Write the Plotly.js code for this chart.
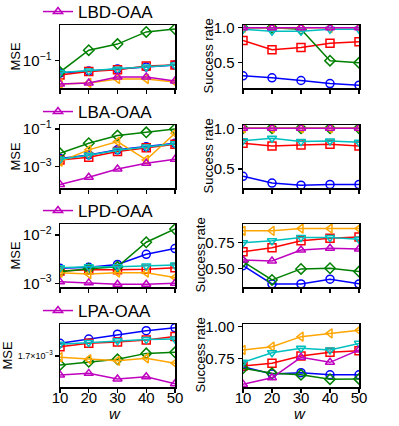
<!DOCTYPE html>
<html>
<head>
<meta charset="utf-8">
<script src="https://cdn.plot.ly/plotly-3.0.1.min.js"></script>
<style>
  html, body { margin: 0; padding: 0; background: #fff; }
  #chart { width: 399px; height: 426px; }
</style>
</head>
<body>
<div id="chart"></div>
<script>
// window sizes (x axis)
const w = [10, 20, 30, 40, 50];

// each panel: series in order blue, red, green, orange, cyan, magenta
const lbdMse = [
  [0.0763, 0.0798, 0.0834, 0.0871, 0.091],
  [0.0731, 0.079, 0.082, 0.0891, 0.091],
  [0.078, 0.126, 0.144, 0.188, 0.2],
  [0.06, 0.0614, 0.067, 0.067, 0.0627],
  [0.077, 0.08, 0.083, 0.087, 0.091],
  [0.06, 0.0614, 0.07, 0.07, 0.0641],
];
const lbdRate = [
  [0.314, 0.286, 0.247, 0.204, 0.18],
  [0.82, 0.686, 0.72, 0.78, 0.8],
  [1.0, 1.0, 0.98, 0.53, 0.5],
  [1.0, 1.0, 1.0, 1.0, 1.0],
  [0.98, 0.95, 0.95, 0.98, 0.98],
  [1.0, 1.0, 1.0, 1.0, 1.0],
];
const lbaMse = [
  [2.75e-3, 4.2e-3, 7.8e-3, 1.15e-2, 1.74e-2],
  [2.29e-3, 3.16e-3, 6.3e-3, 1.02e-2, 1.55e-2],
  [5.1e-3, 1.74e-2, 4.47e-2, 6.6e-2, 0.1],
  [1.86e-3, 7.8e-3, 2.14e-2, 2.29e-3, 5.9e-2],
  [2.5e-3, 4.0e-3, 7.5e-3, 1.1e-2, 1.65e-2],
  [1.15e-4, 2.75e-4, 7.6e-4, 1.51e-3, 2.45e-3],
];
const lbaRate = [
  [0.41, 0.327, 0.3, 0.31, 0.31],
  [0.816, 0.783, 0.795, 0.803, 0.783],
  [1.0, 1.0, 1.0, 1.0, 1.0],
  [1.0, 1.0, 1.0, 1.0, 1.0],
  [0.848, 0.877, 0.836, 0.844, 0.828],
  [1.0, 1.0, 1.0, 1.0, 1.0],
];
const lpdMse = [
  [2.04e-3, 2.14e-3, 2.46e-3, 3.98e-3, 5.25e-3],
  [1.8e-3, 1.9e-3, 1.9e-3, 1.95e-3, 2.09e-3],
  [1.74e-3, 2.0e-3, 2.19e-3, 7.08e-3, 1.33e-2],
  [1.66e-3, 1.55e-3, 1.66e-3, 1.66e-3, 1.32e-3],
  [2.09e-3, 2.19e-3, 2.19e-3, 2.29e-3, 2.4e-3],
  [1.07e-3, 1.02e-3, 0.955e-3, 0.955e-3, 1.0e-3],
];
const lpdRate = [
  [0.525, 0.35, 0.35, 0.395, 0.35],
  [0.66, 0.698, 0.765, 0.788, 0.8],
  [0.564, 0.388, 0.494, 0.5, 0.468],
  [0.86, 0.86, 0.882, 0.882, 0.882],
  [0.746, 0.765, 0.797, 0.797, 0.78],
  [0.58, 0.57, 0.676, 0.692, 0.686],
];
const lpaMse = [
  [1.849e-3, 1.901e-3, 1.963e-3, 2.009e-3, 2.047e-3],
  [1.807e-3, 1.849e-3, 1.866e-3, 1.888e-3, 1.932e-3],
  [1.603e-3, 1.637e-3, 1.664e-3, 1.73e-3, 1.742e-3],
  [1.687e-3, 1.664e-3, 1.648e-3, 1.675e-3, 1.622e-3],
  [1.836e-3, 1.858e-3, 1.879e-3, 1.897e-3, 1.901e-3],
  [1.5e-3, 1.517e-3, 1.462e-3, 1.483e-3, 1.416e-3],
];
const lpaRate = [
  [0.684, 0.626, 0.636, 0.619, 0.619],
  [0.689, 0.71, 0.768, 0.797, 0.81],
  [0.671, 0.631, 0.619, 0.585, 0.587],
  [0.816, 0.842, 0.921, 0.947, 0.971],
  [0.718, 0.794, 0.829, 0.815, 0.868],
  [0.544, 0.596, 0.758, 0.718, 0.815],
];

const rowNames = ["LBD-OAA", "LBA-OAA", "LPD-OAA", "LPA-OAA"];
const msePanels = [lbdMse, lbaMse, lpdMse, lpaMse];
const ratePanels = [lbdRate, lbaRate, lpdRate, lpaRate];

const colors = ["#0000ff", "#ff0000", "#008000", "#ffa500", "#00bfbf", "#bf00bf"];
const symbols = ["circle-open", "square-open", "diamond-open", "triangle-left-open", "triangle-down-open", "triangle-up-open"];

const font = "Liberation Sans, Arial, sans-serif";
const W = 399, H = 426;
const px = (x) => x / W;
const py = (y) => 1 - y / H;

const rowTops = [25, 125, 224, 324];
const rowH = 63;
const colX = [[60, 175], [243, 359]];

const mseRanges = [[-1.26, -0.66], [-4.13, -0.79], [-3.077, -1.772], [-2.858, -2.678]];
const mseTicks = [
  { vals: [0.1], text: ["10<sup>−1</sup>"], size: 15 },
  { vals: [0.1, 0.001], text: ["10<sup>−1</sup>", "10<sup>−3</sup>"], size: 15 },
  { vals: [0.01, 0.001], text: ["10<sup>−2</sup>", "10<sup>−3</sup>"], size: 15 },
  { vals: [0.0017], text: ["1.7×10<sup>−3</sup>"], size: 9 },
];
const rateRanges = [[0.14, 1.04], [0.266, 1.04], [0.32, 0.926], [0.523, 1.021]];
const rateTicks = [
  { vals: [0.5, 1.0], text: ["0.5", "1.0"] },
  { vals: [0.5, 1.0], text: ["0.5", "1.0"] },
  { vals: [0.5, 0.75], text: ["0.50", "0.75"] },
  { vals: [0.75, 1.0], text: ["0.75", "1.00"] },
];

const traces = [];
const layout = {
  width: W,
  height: H,
  margin: { l: 0, r: 0, t: 0, b: 0, autoexpand: false },
  paper_bgcolor: "#fff",
  plot_bgcolor: "#fff",
  font: { family: font, color: "#000", size: 15 },
  annotations: [],
};

function axisBase() {
  return {
    showline: true,
    mirror: true,
    linecolor: "#000",
    linewidth: 1.5,
    ticks: "outside",
    ticklen: 4,
    tickwidth: 1.2,
    tickcolor: "#000",
    showgrid: false,
    zeroline: false,
    tickfont: { family: font, size: 15, color: "#000" },
  };
}

for (let r = 0; r < 4; r++) {
  const top = rowTops[r];
  const legendKey = r === 0 ? "legend" : "legend" + (r + 1);
  for (let c = 0; c < 2; c++) {
    const idx = r * 2 + c + 1;
    const xa = "x" + idx, ya = "y" + idx;
    const panel = c === 0 ? msePanels[r] : ratePanels[r];
    panel.forEach((vals, s) => {
      const isMain = s === 5;
      traces.push({
        type: "scatter",
        mode: "lines+markers",
        x: w,
        y: vals,
        xaxis: xa,
        yaxis: ya,
        name: isMain ? rowNames[r] : "method " + (s + 1),
        legend: legendKey,
        showlegend: isMain && c === 0,
        line: { color: colors[s], width: 1.5 },
        marker: { symbol: symbols[s], size: 8, color: colors[s], line: { color: colors[s], width: 1.5 } },
      });
    });

    const xAxis = axisBase();
    Object.assign(xAxis, {
      domain: [px(colX[c][0]), px(colX[c][1])],
      anchor: ya,
      range: [10, 50],
      tickvals: w,
      showticklabels: false,
    });
    const yAxis = axisBase();
    yAxis.domain = [py(top + rowH), py(top)];
    yAxis.anchor = xa;
    if (c === 0) {
      yAxis.type = "log";
      yAxis.range = mseRanges[r];
      yAxis.tickvals = mseTicks[r].vals;
      yAxis.ticktext = mseTicks[r].text;
      yAxis.tickfont = { family: font, size: mseTicks[r].size, color: "#000" };
    } else {
      yAxis.range = rateRanges[r];
      yAxis.tickvals = rateTicks[r].vals;
      yAxis.ticktext = rateTicks[r].text;
    }
    layout["xaxis" + (idx === 1 ? "" : idx)] = xAxis;
    layout["yaxis" + (idx === 1 ? "" : idx)] = yAxis;

    // bottom row: tick labels on a label-only axis sitting on the frame
    if (r === 3) {
      const lblIdx = 9 + c;
      traces.push({
        type: "scatter", mode: "markers", x: [], y: [],
        xaxis: "x" + lblIdx, yaxis: ya, showlegend: false, hoverinfo: "skip",
      });
      layout["xaxis" + lblIdx] = {
        domain: [px(colX[c][0]), px(colX[c][1])],
        overlaying: xa,
        anchor: "free",
        position: py(top + rowH),
        range: [10, 50],
        tickvals: w,
        ticktext: w.map(String),
        ticks: "",
        showline: false,
        showgrid: false,
        zeroline: false,
        tickfont: { family: font, size: 15, color: "#000" },
      };
    }
  }

  layout[legendKey] = {
    x: px(38),
    y: py(top - 13),
    xanchor: "left",
    yanchor: "middle",
    bgcolor: "rgba(0,0,0,0)",
    font: { family: font, size: 17, color: "#000" },
  };

  const midY = top + rowH / 2;
  layout.annotations.push({
    xref: "paper", yref: "paper",
    x: px(r === 3 ? 7 : 15), y: py(midY),
    text: "MSE", textangle: -90, showarrow: false,
    xanchor: "center", yanchor: "middle",
    font: { family: font, size: 13, color: "#000" },
  });
  layout.annotations.push({
    xref: "paper", yref: "paper",
    x: px(r < 2 ? 208 : 200), y: py(midY),
    text: "Success rate", textangle: -90, showarrow: false,
    xanchor: "center", yanchor: "middle",
    font: { family: font, size: 13, color: "#000" },
  });
}

[115, 300].forEach((cx) => {
  layout.annotations.push({
    xref: "paper", yref: "paper",
    x: px(cx), y: py(413),
    text: "<i>w</i>", showarrow: false,
    xanchor: "center", yanchor: "middle",
    font: { family: font, size: 15, color: "#000" },
  });
});

Plotly.newPlot("chart", traces, layout, { displayModeBar: false, staticPlot: true });
</script>
</body>
</html>
